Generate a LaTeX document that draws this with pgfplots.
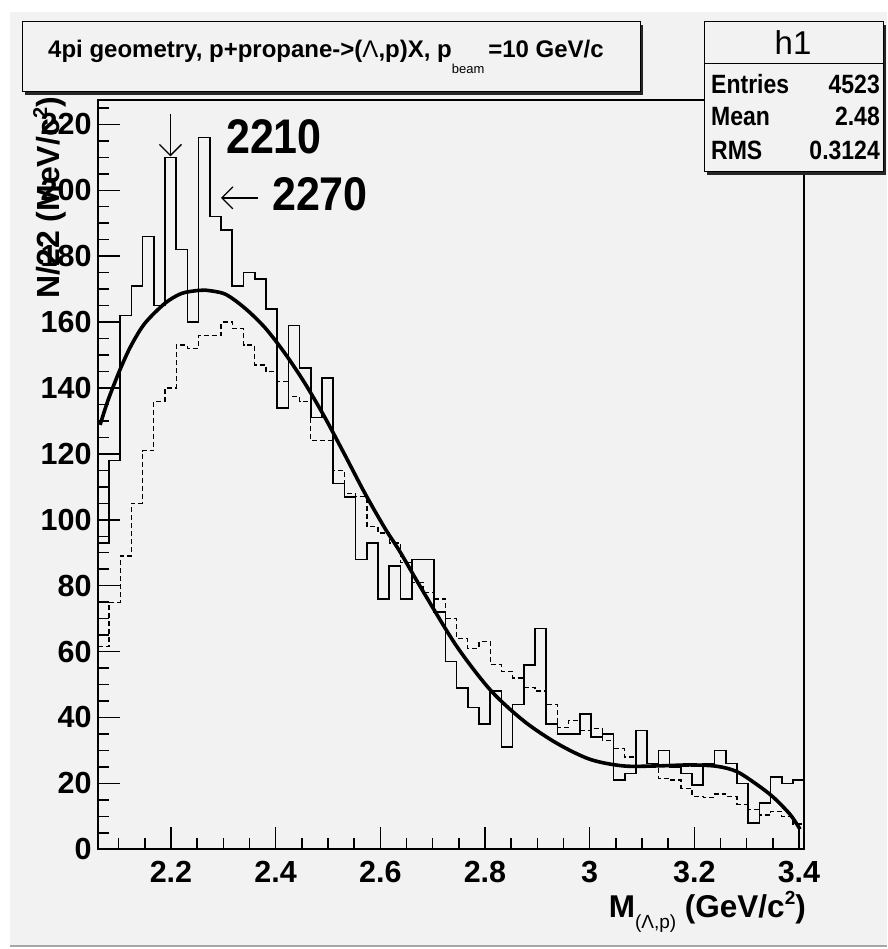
\documentclass[border=0pt]{standalone}
\usepackage{fontspec}
\setmainfont{Liberation Sans}
\usepackage{pgfplots}
\pgfplotsset{compat=1.18}
\usepackage{pgfplotstable}
\usetikzlibrary{arrows.meta}
\definecolor{rootbg}{RGB}{242,242,242}

\pgfplotstableread{
x sol dash
2.0600 93 61.5
2.0814 118 75
2.1029 162 89
2.1243 171 105
2.1457 186 121
2.1671 165 136
2.1886 210 140
2.2100 182 153
2.2314 160 152
2.2529 216 156
2.2743 192 156
2.2957 188 160
2.3171 171 158
2.3386 175 153
2.3600 173 147
2.3814 164 145
2.4029 134 142
2.4243 159 137.5
2.4457 146 136
2.4671 131 124
2.4886 143 124
2.5100 111 115
2.5314 107 108
2.5529 88 107
2.5743 93 98
2.5957 76 96
2.6171 86 93
2.6386 76 87
2.6600 88 81
2.6814 88 78
2.7029 72 76
2.7243 57 70
2.7457 49 64
2.7671 43 61
2.7886 38 63
2.8100 48 56
2.8314 31 54
2.8529 44 52
2.8743 56 49
2.8957 67 48
2.9171 38 44
2.9386 35 37
2.9600 35 39
2.9814 41 36
3.0029 34 36.6
3.0243 35 33
3.0457 21 30.6
3.0671 23 28
3.0886 36 25.3
3.1100 26 25
3.1314 30 21.5
3.1529 25 21
3.1743 23 18.4
3.1957 19.5 16
3.2171 26 15.8
3.2386 30 16.8
3.2600 26 16
3.2814 20 13.7
3.3029 8 12
3.3243 14 10.4
3.3457 22 11.5
3.3671 20 10
3.3886 21 7.7
3.4100 21 7.7
}\hist

\begin{document}
\begin{tikzpicture}[x=1pt,y=1pt]
\useasboundingbox (0,0) rectangle (887,949);
\fill[white] (0,0) rectangle (887,949);
\fill[rootbg] (10,3) rectangle (887,937);
\draw[black!35, line width=2pt] (10,3) -- (887,3);

\begin{axis}[
  at={(97.7pt,99.7pt)}, anchor=south west,
  scale only axis, width=706.5pt, height=749.3pt,
  xmin=2.06, xmax=3.41, ymin=0, ymax=227.4,
  axis line style={line width=1.8pt},
  tick align=inside, tick pos=left,
  major tick length=22pt, minor tick length=11.5pt,
  every tick/.style={black, line width=1.5pt},
  xtick={2.2,2.4,2.6,2.8,3.0,3.2,3.4},
  minor xtick={2.1,2.15,2.25,2.3,2.35,2.45,2.5,2.55,2.65,2.7,2.75,2.85,2.9,2.95,3.05,3.1,3.15,3.25,3.3,3.35},
  ytick={0,20,...,220},
  minor ytick={5,10,15,25,30,35,45,50,55,65,70,75,85,90,95,105,110,115,125,130,135,145,150,155,165,170,175,185,190,195,205,210,215,225},
  tick label style={font=\fontsize{30.5}{30.5}\selectfont\bfseries, inner sep=0pt},
  xticklabel shift=12pt, yticklabel shift=6pt,
  /pgf/number format/assume math mode=true,
  clip=false,
]
\addplot[const plot mark left, black, line width=1.3pt, dash pattern=on 5pt off 3pt] table[x=x,y=dash]{\hist};
\addplot[const plot mark left, black, line width=1.6pt] table[x=x,y=sol]{\hist};
\addplot[black, line width=3.6pt, smooth, tension=0.5] coordinates {
(2.0646,128.8) (2.080,136.4) (2.1025,145.5) (2.1236,152.8) (2.150,159.6) (2.1885,165.7) (2.2204,168.7) (2.252,169.6) (2.265,169.7) (2.3032,168.5) (2.3414,164.2) (2.3796,158.3) (2.4178,150.5) (2.456,141.4) (2.4943,131.0) (2.5325,119.6) (2.5707,108.0) (2.6089,97.4) (2.6376,90.3) (2.682,78.2) (2.746,61.6) (2.8105,48.3) (2.8737,39.0) (2.937,32.2) (3.0007,27.3) (3.0644,25.3) (3.1282,25.3) (3.1918,25.6) (3.2428,25.2) (3.281,23.6) (3.3192,19.7) (3.351,15.8) (3.3829,10.6) (3.402,6.1)
};
\draw[line width=1.3pt, -{Straight Barb[length=11pt,width=22pt,line width=1.3pt]}] (axis cs:2.199,223.2) -- (axis cs:2.199,210.3);
\draw[line width=1.3pt, -{Straight Barb[length=11pt,width=22pt,line width=1.3pt]}] (axis cs:2.3663,197.7) -- (axis cs:2.2955,197.7);
\node[inner sep=0pt, font=\fontsize{43}{43}\selectfont\bfseries] at (axis cs:2.3968,216.2) {\scalebox{1}[1.13]{2210}};
\node[inner sep=0pt, font=\fontsize{43}{43}\selectfont\bfseries] at (axis cs:2.4847,198.9) {\scalebox{1}[1.1]{2270}};
\end{axis}

% axis titles
\node[rotate=90, anchor=base east, inner sep=0pt, font=\fontsize{32}{32}\selectfont\bfseries] at (59,852) {N/22 (MeV/c\raisebox{12pt}{\fontsize{20}{20}\selectfont 2})};
\node[anchor=base east, inner sep=0pt, font=\fontsize{31.5}{31.5}\selectfont\bfseries] at (806,31) {M\raisebox{-11pt}{\fontsize{19}{19}\selectfont\mdseries (Λ,p)} (GeV/c\raisebox{13pt}{\fontsize{19}{19}\selectfont 2})};

% title box
\fill[black!85] (25,854) rectangle (643,924);
\filldraw[fill=rootbg, draw=black, line width=1pt] (22,857) rectangle (640,927);
\node[anchor=base west, inner sep=0pt, font=\fontsize{24}{24}\selectfont\bfseries] at (48,891) {4pi geometry, p+propane-{}>(\mdseries Λ\bfseries,p)X, p\raisebox{-16pt}{\fontsize{13}{13}\selectfont\mdseries beam}\,=10 GeV/c};

% stats box
\fill[black!85] (707,774) rectangle (886,924);
\filldraw[fill=rootbg, draw=black, line width=1pt] (704,777) rectangle (883,927);
\draw[line width=1pt] (704,885) -- (883,885);
\node[inner sep=0pt, font=\fontsize{33}{33}\selectfont] at (793,906) {h1};
\begin{scope}[every node/.style={inner sep=0pt, font=\fontsize{23}{23}\selectfont\bfseries}]
\node[anchor=base west] at (711,855) {\scalebox{1}[1.15]{Entries}};
\node[anchor=base east] at (880,855) {\scalebox{1}[1.15]{4523}};
\node[anchor=base west] at (711,823) {\scalebox{1}[1.15]{Mean}};
\node[anchor=base east] at (880,823) {\scalebox{1}[1.15]{2.48}};
\node[anchor=base west] at (711,789) {\scalebox{1}[1.15]{RMS}};
\node[anchor=base east] at (880,789) {\scalebox{1}[1.15]{0.3124}};
\end{scope}
\end{tikzpicture}
\end{document}
